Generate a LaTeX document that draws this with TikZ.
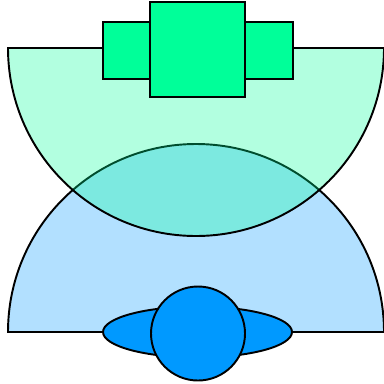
\documentclass[tikz,border=0pt]{standalone}
\usepackage{tikz}
\definecolor{mintgreen}{HTML}{00FF99}
\definecolor{skyblue}{HTML}{0099FF}

\begin{document}
\begin{tikzpicture}[
    x=0.02cm, y=0.02cm,
    outline/.style={draw=black, line width=1.1pt},
    halfdisc/.style={outline, fill opacity=0.3},
    topblock/.style={outline, fill=mintgreen},
    bottomblock/.style={outline, fill=skyblue}
]
\useasboundingbox (0,0) rectangle (384,383);
% the two half discs
\draw[halfdisc, fill=skyblue] (8,51) arc[start angle=180, end angle=0, radius=188] -- cycle;
\draw[halfdisc, fill=mintgreen] (8,335) arc[start angle=180, end angle=360, radius=188] -- cycle;
% top blocks
\draw[topblock] (103,361) rectangle (293,304);
\draw[topblock] (150,381) rectangle (245,286);
% bottom blocks
\draw[bottomblock] (197.5,51) ellipse[x radius=94.5, y radius=25.5];
\draw[bottomblock] (198,49.5) circle[radius=47];
\end{tikzpicture}
\end{document}
